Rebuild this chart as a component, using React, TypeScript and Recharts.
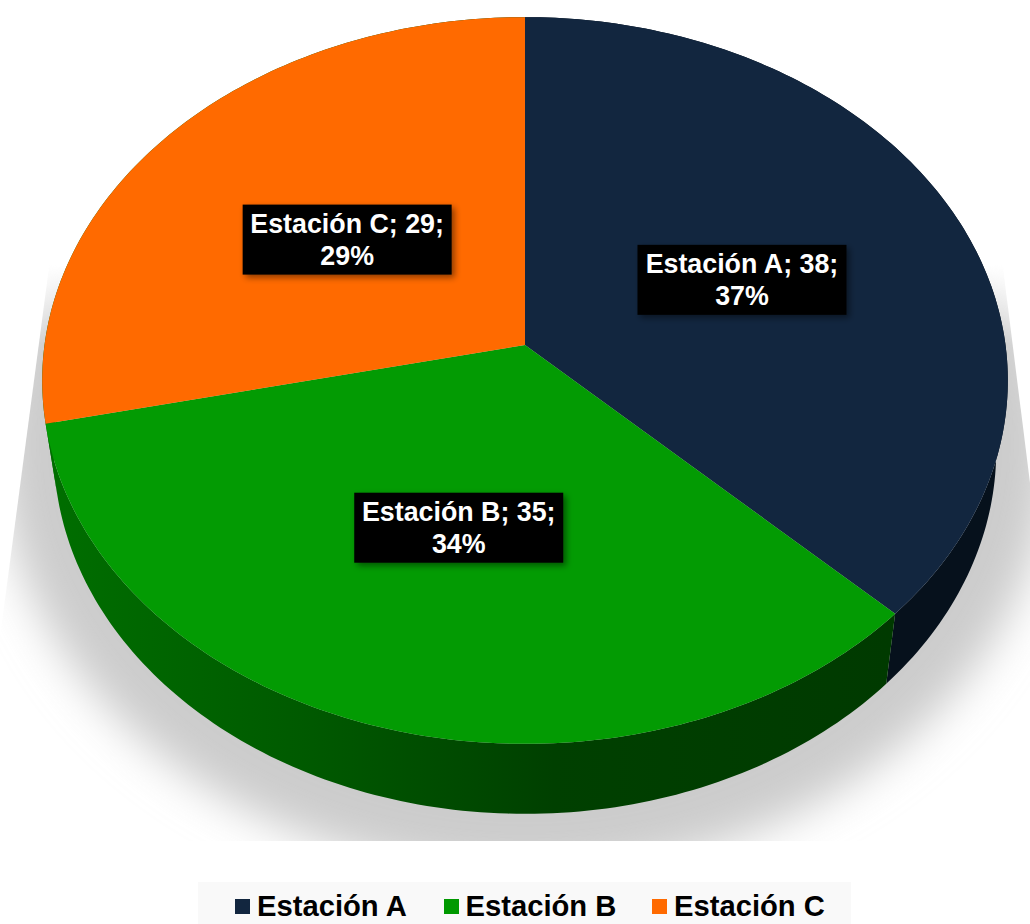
import { PieChart, Pie, Legend } from "recharts";

const stations = ["Estación A", "Estación B", "Estación C"];
const values = [38, 35, 29];
const percents = [37, 34, 29];
const topColors = ["#12263f", "#039b03", "#ff6a00"];
const legendColors = ["#12263f", "#009900", "#ff6a00"];
const wallColors = ["#06111c", "url(#wallGreen)", "url(#wallGreen)"];

const data = stations.map((name, i) => ({ name, value: values[i], percent: percents[i] }));
const topData = data.map((d, i) => ({ ...d, fill: topColors[i] }));
const wallData = data.map((d, i) => ({ ...d, fill: wallColors[i] }));

const FONT = "'Liberation Sans', Arial, sans-serif";
const TILT = 0.749;
const PERSPECTIVE = 0.0977;
const DEPTH = 70;
const BOTTOM_SCALE = 0.976;

// flat circle -> tilted disc with a little perspective
const project = (cx: number, cy: number, r: number, angle: number, frac = 1) => {
  const rad = (angle * Math.PI) / 180;
  const u = frac * Math.cos(rad);
  const v = -frac * Math.sin(rad);
  const d = 1 - PERSPECTIVE * v;
  return { x: cx + (r * u) / d, y: cy + (r * TILT * v) / d };
};

const rim = (p: any) => {
  const pts = [];
  const steps = Math.ceil(Math.abs(p.endAngle - p.startAngle));
  for (let i = 0; i <= steps; i++) {
    const a = p.startAngle + ((p.endAngle - p.startAngle) * i) / steps;
    pts.push(project(p.cx, p.cy, p.outerRadius, a));
  }
  return pts;
};

const TopSector = (p: any) => {
  const pts = rim(p);
  const path = `M${p.cx},${p.cy}L` + pts.map((q) => `${q.x},${q.y}`).join("L") + "Z";
  return <path d={path} fill={p.fill} />;
};

const WallSector = (p: any) => {
  const pts = rim(p);
  const lower = pts
    .map((q) => ({ x: p.cx + (q.x - p.cx) * BOTTOM_SCALE, y: q.y + DEPTH }))
    .reverse();
  const path = "M" + [...pts, ...lower].map((q) => `${q.x},${q.y}`).join("L") + "Z";
  return <path d={path} fill={p.fill} />;
};

const BoxLabel = (p: any) => {
  const pos = project(p.cx, p.cy, p.outerRadius, p.midAngle, 0.495);
  const x = pos.x + 2;
  const y = pos.y + 3;
  return (
    <g>
      <rect x={x - 104.5} y={y - 35} width={209} height={70} fill="#000" filter="url(#boxShadow)" />
      <text x={x} y={y - 7} textAnchor="middle" fill="#fff" fontFamily={FONT} fontWeight="bold" fontSize={26.8}>
        {`${p.name}; ${p.value};`}
      </text>
      <text x={x} y={y + 25} textAnchor="middle" fill="#fff" fontFamily={FONT} fontWeight="bold" fontSize={26.8}>
        {`${p.payload.percent}%`}
      </text>
    </g>
  );
};

const LegendRow = () => (
  <div style={{ position: "relative", width: 653, height: 42, background: "#f9f9f9", fontFamily: FONT }}>
    {stations.map((name, i) => (
      <div key={name} style={{ position: "absolute", left: 37 + i * 208.5, top: 0, height: 42 }}>
        <span style={{ position: "absolute", left: 0, top: 17, width: 15, height: 15, background: legendColors[i] }} />
        <span
          style={{
            position: "absolute",
            left: 22,
            top: 7,
            fontSize: 29.2,
            lineHeight: "34px",
            fontWeight: "bold",
            color: "#000",
            whiteSpace: "nowrap",
          }}
        >
          {name}
        </span>
      </div>
    ))}
  </div>
);

export default function App() {
  return (
    <div style={{ position: "absolute", left: 0, top: 0 }}>
      <PieChart width={1030} height={924} margin={{ top: 0, right: 0, bottom: 0, left: 0 }}>
        <defs>
          <linearGradient id="wallGreen" gradientUnits="userSpaceOnUse" x1="50" y1="0" x2="890" y2="0">
            <stop offset="0" stopColor="#006e00" />
            <stop offset="0.3" stopColor="#005a00" />
            <stop offset="0.6" stopColor="#004000" />
            <stop offset="1" stopColor="#003a00" />
          </linearGradient>
          <linearGradient id="shadowFade" gradientUnits="userSpaceOnUse" x1="0" y1="265" x2="0" y2="345">
            <stop offset="0" stopColor="#000" />
            <stop offset="1" stopColor="#fff" />
          </linearGradient>
          <mask id="shadowMask" maskUnits="userSpaceOnUse" x="-50" y="200" width="1150" height="700">
            <polygon points="50,260 1002,260 1075,841 -27,841" fill="url(#shadowFade)" />
          </mask>
          <filter id="softShadow" filterUnits="userSpaceOnUse" x="-200" y="-200" width="1500" height="1400">
            <feGaussianBlur stdDeviation="22" />
          </filter>
          <filter id="boxShadow" x="-10%" y="-20%" width="125%" height="150%">
            <feDropShadow dx="3" dy="3" stdDeviation="3" floodColor="#000" floodOpacity="0.45" />
          </filter>
        </defs>
        <g mask="url(#shadowMask)">
          <ellipse cx={525} cy={445} rx={526} ry={430} fill="#cccccc" filter="url(#softShadow)" />
        </g>
        <Pie
          data={wallData}
          dataKey="value"
          nameKey="name"
          cx={525}
          cy={345}
          outerRadius={480.5}
          startAngle={90}
          endAngle={-270}
          stroke="none"
          legendType="none"
          shape={WallSector}
          isAnimationActive={false}
        />
        <Pie
          data={topData}
          dataKey="value"
          nameKey="name"
          cx={525}
          cy={345}
          outerRadius={480.5}
          startAngle={90}
          endAngle={-270}
          stroke="none"
          shape={TopSector}
          label={BoxLabel}
          labelLine={false}
          isAnimationActive={false}
        />
        <Legend content={LegendRow} wrapperStyle={{ left: 198, top: 882, width: 653, height: 42 }} />
      </PieChart>
    </div>
  );
}
